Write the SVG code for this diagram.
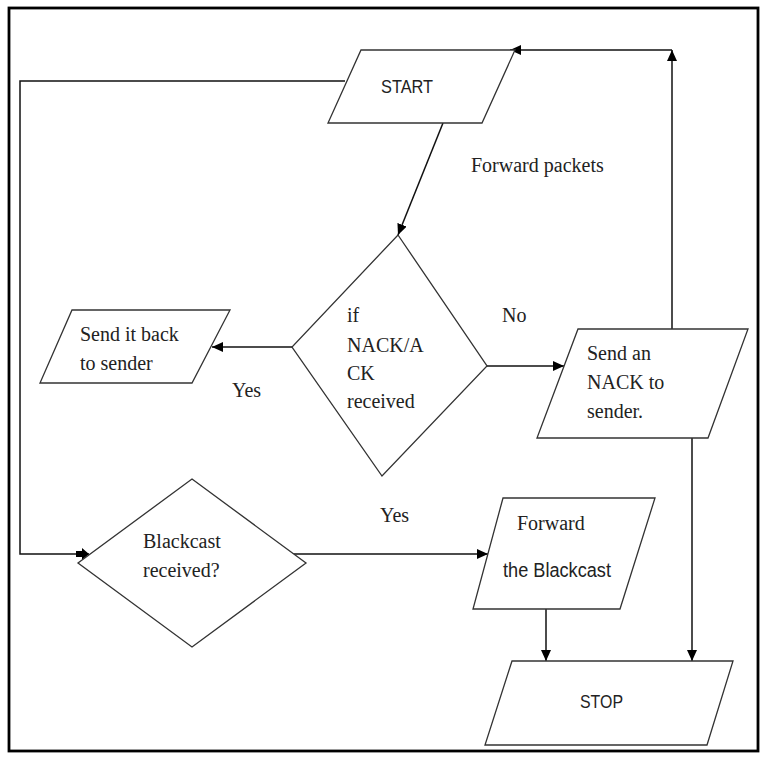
<svg xmlns="http://www.w3.org/2000/svg" width="767" height="759" viewBox="0 0 767 759">
<style>
.shape{fill:#fff;stroke:#333;stroke-width:1.3}
.conn{fill:none;stroke:#111;stroke-width:1.5}
.serif{font-family:"Liberation Serif","Times New Roman",serif;font-size:20px;fill:#222}
.sans{font-family:"Liberation Sans",Arial,sans-serif;font-size:19px;fill:#222}
</style>
<defs>
<marker id="ah" markerUnits="userSpaceOnUse" markerWidth="12" markerHeight="10" refX="11" refY="5" orient="auto">
<path d="M0,0 L11,5 L0,10 z" fill="#000"/>
</marker>
<marker id="ahb" markerUnits="userSpaceOnUse" markerWidth="14" markerHeight="12" refX="13" refY="6" orient="auto">
<path d="M0,3 L6,3 L6,0 L13,6 L6,12 L6,9 L0,9 z" fill="#000"/>
</marker>
</defs>
<rect x="9" y="8" width="749" height="743" fill="#fff" stroke="#000" stroke-width="2.8"/>
<g id="connectors">
<path class="conn" d="M345,81 H20 V554 H89" marker-end="url(#ahb)"/>
<path class="conn" d="M443,123 L398,235" marker-end="url(#ah)"/>
<path class="conn" d="M292,347 H212" marker-end="url(#ah)"/>
<path class="conn" d="M487,366 H564" marker-end="url(#ah)"/>
<path class="conn" d="M672,329 V50" marker-end="url(#ah)"/>
<path class="conn" d="M672,50 H510" marker-end="url(#ah)"/>
<path class="conn" d="M292,554 H488" marker-end="url(#ah)"/>
<path class="conn" d="M546,609 V661" marker-end="url(#ah)"/>
<path class="conn" d="M692,438 V661" marker-end="url(#ah)"/>
</g>
<g id="start">
<polygon class="shape" points="361,50 515,50 482,123 328,123"/>
<text class="sans" x="381" y="93" textLength="52" lengthAdjust="spacingAndGlyphs">START</text>
</g>
<text class="serif" x="471" y="172">Forward packets</text>
<g id="decision-nack">
<polygon class="shape" points="398,235 487,366 382,476 292,347"/>
<text class="serif" x="347" y="322">if</text>
<text class="serif" x="347" y="352">NACK/A</text>
<text class="serif" x="347" y="380">CK</text>
<text class="serif" x="347" y="408">received</text>
</g>
<g id="send-back">
<polygon class="shape" points="72,310 230,310 192,383 40,383"/>
<text class="serif" x="80" y="341">Send it back</text>
<text class="serif" x="80" y="370">to sender</text>
</g>
<text class="serif" x="232" y="397">Yes</text>
<text class="serif" x="502" y="322">No</text>
<g id="send-nack">
<polygon class="shape" points="578,329 748,329 708,438 537,438"/>
<text class="serif" x="587" y="360">Send an</text>
<text class="serif" x="587" y="389">NACK to</text>
<text class="serif" x="587" y="418">sender.</text>
</g>
<g id="blackcast">
<polygon class="shape" points="192,479 306,563 192,647 78,563"/>
<text class="serif" x="143" y="548">Blackcast</text>
<text class="serif" x="143" y="577">received?</text>
</g>
<text class="serif" x="380" y="522">Yes</text>
<g id="forward">
<polygon class="shape" points="503,498 655,498 620,609 473,609"/>
<text class="serif" x="517" y="530">Forward</text>
<text class="sans" x="503" y="577" textLength="108" lengthAdjust="spacingAndGlyphs" style="font-size:20px">the Blackcast</text>
</g>
<g id="stop">
<polygon class="shape" points="512,661 733,661 707,745 485,745"/>
<text class="sans" x="580" y="708" textLength="43" lengthAdjust="spacingAndGlyphs">STOP</text>
</g>
</svg>
